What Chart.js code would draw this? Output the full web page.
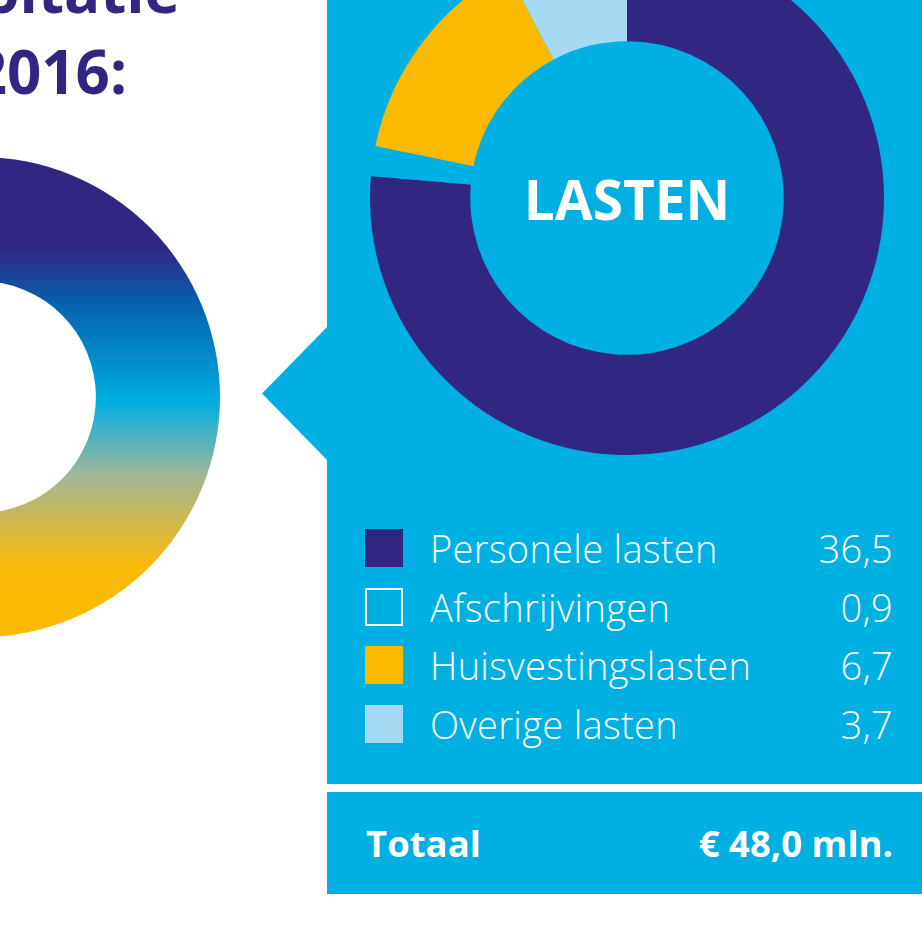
<!DOCTYPE html>
<html lang="nl">
<head>
<meta charset="utf-8">
<title>Lasten 2016</title>
<script src="https://cdn.jsdelivr.net/npm/chart.js@4"></script>
<style>
  html, body { margin: 0; padding: 0; background: #ffffff; }
  body { width: 922px; height: 935px; position: relative; overflow: hidden; font-family: "Open Sans", sans-serif; }
  .titel { position: absolute; color: #312783; font-weight: 700; font-size: 60px; line-height: 60px; white-space: nowrap; text-align: right; }
  .paneel { position: absolute; left: 327px; width: 595px; background: #00b0e2; }
  .pijl { position: absolute; left: 262px; top: 326px; width: 66px; height: 135px; background: #00b0e2;
          clip-path: polygon(100% 0, 0 50%, 100% 100%); }
  .chart-box { position: absolute; }
  .midden { position: absolute; left: 477px; top: 171px; width: 300px; text-align: center; color: #fff;
            font-weight: 700; font-size: 55px; line-height: 55px; }
  .legenda { position: absolute; left: 365px; top: 529px; width: 528px; }
  .rij { position: relative; height: 58.7px; }
  .blok { position: absolute; left: 0; top: 0; width: 38px; height: 38px; box-sizing: border-box; }
  .naam { position: absolute; left: 65px; top: 0; color: #fff; font-weight: 300; font-size: 38px; line-height: 38px;
          letter-spacing: 0.3px; white-space: nowrap; }
  .waarde { position: absolute; right: 0; top: 0; color: #fff; font-weight: 300; font-size: 38px; line-height: 38px; letter-spacing: 0.3px; }
  .totaal { position: absolute; top: 823px; color: #fff; font-weight: 700; font-size: 36.5px; line-height: 40px; white-space: nowrap; }
</style>
</head>
<body>
  <div class="titel" style="right:742px; top:-40px;">Resultaat exploitatie</div>
  <div class="titel" style="right:795px; top:41px;">2016:</div>

  <div class="chart-box" style="left:-260px; top:157px; width:480px; height:480px;">
    <canvas id="chartBaten"></canvas>
  </div>

  <div class="pijl"></div>
  <div class="paneel" style="top:0; height:784px;"></div>
  <div class="paneel" style="top:792px; height:102px;"></div>

  <div class="chart-box" style="left:370px; top:-59px; width:514px; height:514px;">
    <canvas id="chartLasten"></canvas>
  </div>
  <div class="midden">LASTEN</div>

  <div class="legenda" id="lastenLegenda"></div>

  <div class="totaal" style="left:366px;" id="totaalLabel"></div>
  <div class="totaal" style="right:29px;" id="totaalWaarde"></div>

<script>
// Lasten 2016 (x € 1 mln.)
const categorieen = ['Personele lasten', 'Afschrijvingen', 'Huisvestingslasten', 'Overige lasten'];
const waarden     = [36.5, 0.9, 6.7, 3.7];
const kleuren     = ['#312783', '#00b0e2', '#fbba00', '#a6d9f4'];
const totaalTekst = ['Totaal', '€ 48,0 mln.'];

// Linker ring (alleen kleurverloop, één segment)
const batenRing   = [100];
const verloop     = [
  [0.00, '#312783'], [0.19, '#312783'], [0.31, '#0563ae'],
  [0.51, '#00aee2'], [0.66, '#9fb79a'], [0.85, '#f9ba0a'], [1.00, '#fbba00'],
];

const fmtNl = v => v.toFixed(1).replace('.', ',');

Chart.defaults.animation = false;

new Chart(document.getElementById('chartLasten'), {
  type: 'doughnut',
  data: {
    labels: categorieen,
    datasets: [{ data: waarden, backgroundColor: kleuren, borderWidth: 0, hoverOffset: 0 }],
  },
  options: {
    responsive: true,
    maintainAspectRatio: false,
    cutout: '61%',
    events: [],
    layout: { padding: 0 },
    plugins: { legend: { display: false }, tooltip: { enabled: false } },
  },
});

new Chart(document.getElementById('chartBaten'), {
  type: 'doughnut',
  data: {
    labels: ['Baten'],
    datasets: [{
      data: batenRing,
      borderWidth: 0,
      backgroundColor: ctx => {
        const area = ctx.chart.chartArea;
        if (!area) return '#312783';
        const g = ctx.chart.ctx.createLinearGradient(0, area.top, 0, area.bottom);
        verloop.forEach(([p, c]) => g.addColorStop(p, c));
        return g;
      },
    }],
  },
  options: {
    responsive: true,
    maintainAspectRatio: false,
    cutout: '48.3%',
    events: [],
    layout: { padding: 0 },
    plugins: { legend: { display: false }, tooltip: { enabled: false } },
  },
});

// Legenda met waarden
const legenda = document.getElementById('lastenLegenda');
categorieen.forEach((cat, i) => {
  const leeg = kleuren[i] === '#00b0e2';
  const blokStijl = leeg ? 'border:2.5px solid #fff;' : `background:${kleuren[i]};`;
  legenda.innerHTML += `
    <div class="rij">
      <div class="blok" style="${blokStijl}"></div>
      <div class="naam">${cat}</div>
      <div class="waarde">${fmtNl(waarden[i])}</div>
    </div>`;
});

document.getElementById('totaalLabel').textContent  = totaalTekst[0];
document.getElementById('totaalWaarde').textContent = totaalTekst[1];
</script>
</body>
</html>
